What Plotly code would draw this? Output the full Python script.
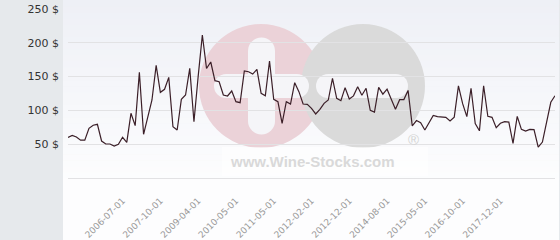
import plotly.graph_objects as go

# ---- data ----
prices = [
    60, 63, 60.6, 56, 56, 73.5, 78, 79.4, 54.7, 50.3,
    50.3, 47.3, 49.8, 60.2, 52.8, 95.7, 77.4, 156.3, 64.6, 90.7,
    115.4, 166.7, 126.7, 131.2, 148.9, 75.9, 71, 116.4, 122.8, 162.2,
    83.3, 150, 211.5, 162, 171.6, 144, 142.4, 122.8, 121.3, 128.7,
    112.9, 111.4, 158.3, 157.2, 153.8, 160.8, 125.3, 121.7, 173, 116.4,
    112.9, 80.9, 112.9, 109.4, 141, 127.7, 109.4, 109, 103, 94.7,
    101.6, 110.5, 115.4, 147.5, 117.9, 114.3, 133.6, 116.8, 121.5, 135,
    122.5, 132.7, 100, 97.4, 134, 124, 131.4, 116.6, 101.8, 115.9,
    116, 129.6, 77, 85, 81.8, 71, 82.5, 92.6, 90.7, 90.2,
    89.8, 84.3, 90, 136.2, 110, 90.7, 132.7, 80.4, 69.8, 136.5,
    91.4, 89.8, 74.4, 81, 83.3, 82.8, 51.3, 91.2, 72, 69.5,
    72, 71.7, 45.8, 53.2, 84, 112, 121.7,
]
tick_labels = ["2006-07-01", "2007-10-01", "2009-04-01", "2010-05-01", "2011-05-01",
               "2012-02-01", "2012-12-01", "2014-08-01", "2015-05-01", "2016-10-01",
               "2017-12-01"]
tick_first = 13
tick_step = 9
y_ticks = [50, 100, 150, 200, 250]
y_tick_text = [f"{v} $" for v in y_ticks]

# ---- layout geometry ----
W, H = 560, 240
L, R, T, B = 68, 5, 9, 62
PW, PH = W - L - R, H - T - B

def px(x):
    return (x - L) / PW

def py(y):
    return (H - B - y) / PH

shapes = []

def rect(x0, y0, x1, y1, color):
    shapes.append(dict(type="rect", xref="paper", yref="paper", layer="below",
                       x0=px(x0), x1=px(x1), y0=py(y1), y1=py(y0),
                       fillcolor=color, line=dict(width=0)))

def circle(cx, cy, r, color):
    shapes.append(dict(type="circle", xref="paper", yref="paper", layer="below",
                       x0=px(cx - r), x1=px(cx + r), y0=py(cy + r), y1=py(cy - r),
                       fillcolor=color, line=dict(width=0)))

# background gradient panel
top_c = (238, 240, 246)
bot_c = (253, 253, 254)
n = 30
for i in range(n):
    y0 = i * 185 / n
    y1 = (i + 1) * 185 / n
    t = i / (n - 1)
    c = tuple(round(top_c[k] + (bot_c[k] - top_c[k]) * t) for k in range(3))
    rect(63, y0, 559, y1 + 0.5, "rgb(%d,%d,%d)" % c)
rect(63, 185, 559, 240, "rgb(253,253,254)")

# watermark logo
circle(261, 86, 62, "#ebd2d8")
circle(363, 86, 62, "#dadada")
bar = "#f5f5f8"
rect(248, 51, 275, 121, bar)
circle(261.5, 51, 13.5, bar)
circle(261.5, 121, 13.5, bar)
rect(226, 74, 297, 98, bar)
circle(226, 86, 12, bar)
circle(297, 86, 12, bar)
rect(328, 74, 396, 98, bar)
circle(328, 86, 12, bar)
circle(396, 86, 12, bar)
rect(222, 147, 428, 176, "rgba(255,255,255,0.6)")

annotations = [
    dict(text="<b>www.Wine-Stocks.com</b>", xref="paper", yref="paper",
         x=px(312), y=py(161), xanchor="center", yanchor="middle", showarrow=False,
         font=dict(family="Liberation Sans", size=15, color="#d9d9d9")),
    dict(text="®", xref="paper", yref="paper", x=px(413), y=py(139),
         xanchor="center", yanchor="middle", showarrow=False,
         font=dict(family="Liberation Sans", size=15, color="#d4d4d4")),
]

x_idx = list(range(len(prices)))
tick_pos = [tick_first + i * tick_step for i in range(len(tick_labels))]

fig = go.Figure(go.Scatter(
    x=x_idx, y=prices, mode="lines",
    line=dict(color="#3b1f28", width=1.2),
    hoverinfo="skip",
))

fig.update_layout(
    width=W, height=H,
    margin=dict(l=L, r=R, t=T, b=B, pad=0, autoexpand=False),
    paper_bgcolor="#e6e9ec",
    plot_bgcolor="rgba(0,0,0,0)",
    showlegend=False,
    shapes=shapes,
    annotations=annotations,
    xaxis=dict(
        range=[0, len(prices) - 1], automargin=False,
        tickmode="array", tickvals=tick_pos, ticktext=tick_labels,
        tickangle=-45, showgrid=False, zeroline=False, showline=False,
        ticks="outside", ticklen=13, tickcolor="rgba(0,0,0,0)",
        tickfont=dict(family="DejaVu Sans", size=9, color="#999999"),
    ),
    yaxis=dict(
        range=[0, 250], automargin=False,
        tickmode="array", tickvals=y_ticks, ticktext=y_tick_text,
        showgrid=True, gridcolor="#e2e2e4", gridwidth=1,
        zeroline=True, zerolinecolor="#e2e2e4", zerolinewidth=1,
        showline=False, ticks="", ticklabelstandoff=8,
        tickfont=dict(family="DejaVu Sans", size=11, color="#333333"),
    ),
)

fig.write_html("out.html")
